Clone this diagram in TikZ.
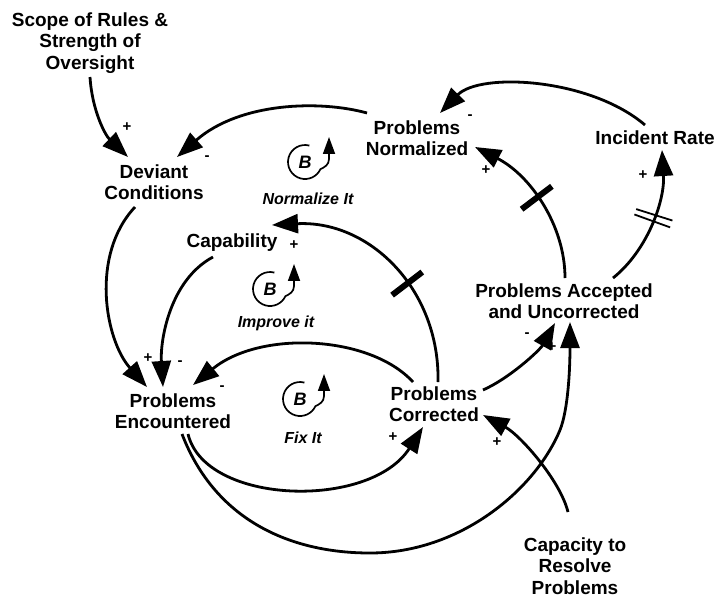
\documentclass[tikz,border=0pt]{standalone}
\usepackage{fontspec}
\setmainfont{Liberation Sans}
\usetikzlibrary{arrows.meta}
\begin{document}
\begin{tikzpicture}[x=1pt,y=-1pt,
  var/.style={font=\fontsize{19}{21.5}\selectfont\bfseries, align=center, inner sep=0pt},
  loopname/.style={font=\fontsize{16}{18}\selectfont\bfseries\itshape, inner sep=0pt},
  loopletter/.style={font=\fontsize{18}{18}\selectfont\bfseries\itshape, inner sep=0pt},
  sgn/.style={font=\fontsize{15}{15}\selectfont\bfseries, inner sep=0pt},
  link/.style={line width=2.8pt, -{Triangle[length=26pt,width=19pt]}},
  loopline/.style={line width=1.7pt, -{Triangle[length=17pt,width=12pt]}},
  hashbar/.style={sloped, fill=black, inner sep=0pt, minimum width=6pt, minimum height=38pt},
  thinbar/.style={sloped, fill=black, inner sep=0pt, minimum width=1.8pt, minimum height=38pt}
]
\useasboundingbox (0,0) rectangle (717,598);
\fill[white] (0,0) rectangle (717,598);

% variables
\node[var] (scope) at (90,43) {Scope of Rules \&\\Strength of\\Oversight};
\node[var] (dev) at (154,182) {Deviant\\Conditions};
\node[var] (norm) at (417,138) {Problems\\Normalized};
\node[var] (inc) at (655,138) {Incident Rate};
\node[var] (cap) at (232,243) {Capability};
\node[var] (enc) at (173,411) {Problems\\Encountered};
\node[var] (cor) at (434,404) {Problems\\Corrected};
\node[var] (acc) at (564,301) {Problems Accepted\\and Uncorrected};
\node[var] (res) at (575,566) {Capacity to\\Resolve\\Problems};

% loop markers
\node[loopletter] (bnorm) at (305,162) {B};
\node[loopletter] (bimp) at (270,289) {B};
\node[loopletter] (bfix) at (300,399) {B};
\foreach \b in {bnorm,bimp,bfix}
  \draw[loopline] (\b.center) ++(75:17pt) arc[start angle=75,end angle=335,radius=17pt]
    .. controls +(4,-2) and +(0,6) .. ++(8.6,-10.2) -- ++(0,-22);
\node[loopname] (tnorm) at (308,199) {Normalize It};
\node[loopname] (timp) at (276,323) {Improve it};
\node[loopname] (tfix) at (303,438) {Fix It};

% links
\draw[link] ([shift={(0,34)}]scope.center) .. controls (92,110) and (105,135) .. ([shift={(-26,-25)}]dev.center);
\draw[link] ([shift={(-50,-25)}]norm.center) .. controls (320,100) and (240,102) .. ([shift={(23,-25)}]dev.center);
\draw[link] ([shift={(-10,-13)}]inc.center) .. controls (590,78) and (480,72) .. ([shift={(23,-25)}]norm.center);
\draw[link] ([shift={(1,-23)}]acc.center) .. controls (565,225) and (530,175) .. node[hashbar, pos=0.54] (h1) {} ([shift={(58,9)}]norm.center);
\draw[link] ([shift={(49,-23)}]acc.center) .. controls (648,250) and (665,200) .. node[thinbar, pos=0.51] (h2) {} node[thinbar, pos=0.555] (h3) {} ([shift={(7,12)}]inc.center);
\draw[link] ([shift={(4,-22)}]cor.center) .. controls (440,290) and (370,220) .. node[hashbar, pos=0.41] (h4) {} ([shift={(40,-18)}]cap.center);
\draw[link] ([shift={(-19,14)}]cap.center) .. controls (170,280) and (160,340) .. ([shift={(-10,-24)}]enc.center);
\draw[link] ([shift={(-19,25)}]dev.center) .. controls (90,255) and (105,340) .. ([shift={(-26,-24)}]enc.center);
\draw[link] ([shift={(-21,-22)}]cor.center) .. controls (370,335) and (260,330) .. ([shift={(20,-26)}]enc.center);
\draw[link] ([shift={(15,23)}]enc.center) .. controls (205,505) and (370,510) .. ([shift={(-11,23)}]cor.center);
\draw[link] ([shift={(9,23)}]enc.center) .. controls (215,520) and (290,553) .. (370,553)
  .. controls (460,553) and (535,490) .. (560,430)
  .. controls (568,410) and (570,370) .. ([shift={(6,21)}]acc.center);
\draw[link] ([shift={(49,-14)}]cor.center) .. controls (510,378) and (540,350) .. ([shift={(-9,22)}]acc.center);
\draw[link] ([shift={(-7,-54)}]res.center) .. controls (560,480) and (520,435) .. ([shift={(49,11)}]cor.center);

% polarities
\node[sgn] (s1) at (127,127) {+};
\node[sgn] (s2) at (207,158) {-};
\node[sgn] (s3) at (470,117) {-};
\node[sgn] (s4) at (486,170) {+};
\node[sgn] (s5) at (643,175) {+};
\node[sgn] (s6) at (294,245) {+};
\node[sgn] (s7) at (180,363) {-};
\node[sgn] (s8) at (148,358) {+};
\node[sgn] (s9) at (222,388) {-};
\node[sgn] (s10) at (393,437) {+};
\node[sgn] (s11) at (552,347) {+};
\node[sgn] (s12) at (527,335) {-};
\node[sgn] (s13) at (497,442) {+};
\end{tikzpicture}
\end{document}
